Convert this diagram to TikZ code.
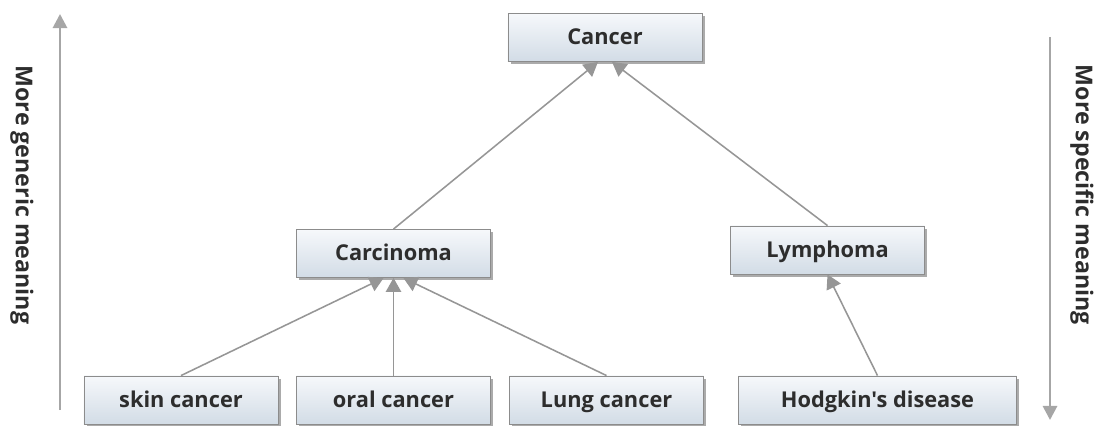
\documentclass[tikz,border=0pt]{standalone}
\usepackage{fontspec}
\newfontfamily\termfont{Open Sans}
\usetikzlibrary{arrows.meta,shadows}
\definecolor{boxline}{RGB}{140,140,140}
\definecolor{boxtop}{RGB}{246,248,251}
\definecolor{boxbot}{RGB}{210,220,230}
\definecolor{edgegray}{RGB}{150,150,150}
\definecolor{textgray}{RGB}{45,45,45}
\begin{document}
\begin{tikzpicture}[x=0.025cm, y=-0.025cm,
    term/.style={draw=boxline, line width=0.6pt, top color=boxtop, bottom color=boxbot,
      minimum width=4.85cm, minimum height=1.2cm, inner sep=0pt,
      text height=12.5pt, text depth=2.5pt,
      font=\termfont\bfseries\fontsize{15.5}{17}\selectfont, text=textgray,
      drop shadow={shadow xshift=1.8pt, shadow yshift=-1.8pt, fill=black!55, opacity=0.6}},
    link/.style={draw=edgegray, line width=1.1pt, -{Triangle[width=11pt,length=10pt]}},
    axis/.style={draw=edgegray!85, line width=2pt, -{Triangle[width=10pt,length=10pt]}},
    axislabel/.style={rotate=-90, font=\termfont\bfseries\fontsize{16.5}{18}\selectfont, text=textgray}]
  \useasboundingbox (0,0) rectangle (1102,426);
  % terms
  \node[term] (Cancer) at (605,37.5) {Cancer};
  \node[term] (Carcinoma) at (393.5,253.5) {Carcinoma};
  \node[term] (Lymphoma) at (827.5,250) {Lymphoma};
  \node[term] (Skin) at (181,400) {skin cancer};
  \node[term] (Oral) at (393.5,400) {oral cancer};
  \node[term] (Lung) at (606.5,400) {Lung cancer};
  \node[term, minimum width=6.95cm] (Hodgkin) at (877.5,400) {Hodgkin's disease};
  % is-a links
  \draw[link] (Carcinoma.north) -- ([xshift=-5pt]Cancer.south);
  \draw[link] (Lymphoma.north) -- ([xshift=5pt]Cancer.south);
  \draw[link] (Skin.north) -- ([xshift=-7pt]Carcinoma.south);
  \draw[link] (Oral.north) -- (Carcinoma.south);
  \draw[link] (Lung.north) -- ([xshift=7pt]Carcinoma.south);
  \draw[link] (Hodgkin.north) -- (Lymphoma.south);
  % axes
  \coordinate (GenLo) at (60,410);
  \coordinate (GenHi) at (60,14);
  \coordinate (SpecHi) at (1050,37);
  \coordinate (SpecLo) at (1050,420);
  \draw[axis] (GenLo) -- (GenHi);
  \draw[axis] (SpecHi) -- (SpecLo);
  \node[axislabel] (Generic) at (22,195) {More generic meaning};
  \node[axislabel] (Specific) at (1082,195) {More specific meaning};
\end{tikzpicture}
\end{document}
